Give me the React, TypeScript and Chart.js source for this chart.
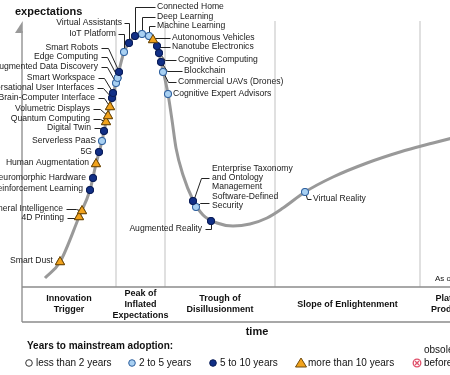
import React, { useEffect, useRef } from "react";
import { Chart, registerables } from "chart.js";

Chart.register(...registerables);

// ---------------- data ----------------
const technologies = [
  "Smart Dust",
  "4D Printing",
  "Artificial General Intelligence",
  "Deep Reinforcement Learning",
  "Neuromorphic Hardware",
  "Human Augmentation",
  "5G",
  "Serverless PaaS",
  "Digital Twin",
  "Quantum Computing",
  "Volumetric Displays",
  "Brain-Computer Interface",
  "Conversational User Interfaces",
  "Smart Workspace",
  "Augmented Data Discovery",
  "Edge Computing",
  "Smart Robots",
  "IoT Platform",
  "Virtual Assistants",
  "Connected Home",
  "Deep Learning",
  "Machine Learning",
  "Autonomous Vehicles",
  "Nanotube Electronics",
  "Cognitive Computing",
  "Blockchain",
  "Commercial UAVs (Drones)",
  "Cognitive Expert Advisors",
  "Enterprise Taxonomy\nand Ontology\nManagement",
  "Software-Defined\nSecurity",
  "Augmented Reality",
  "Virtual Reality",
];

const timeValues = [
  9.5, 14.25, 15, 17, 17.75, 18.5, 19.25, 20, 20.5, 21, 21.5, 22, 22.5, 22.75,
  23.5, 23.9, 24.25, 25.5, 26.75, 28.25, 30, 31.75, 32.75, 33.75, 34.25, 34.75,
  35.25, 36.5, 42.75, 43.5, 47.25, 70.75,
];

const expectationValues = [
  12.5, 35, 38, 48.5, 54.5, 61.5, 67.5, 73, 78, 82.5, 85.5, 90, 94.5, 97, 102,
  104.5, 107.5, 117.5, 122, 125.5, 126.5, 125.5, 123.5, 120.5, 117, 112.5,
  107.5, 96.5, 43, 40, 33, 47.5,
];

// years to mainstream adoption: "2-5", "5-10", ">10"
const adoptionYears = [
  ">10", ">10", ">10", "5-10", "5-10", ">10", "5-10", "2-5", "5-10", ">10",
  ">10", ">10", "5-10", "5-10", "2-5", "2-5", "5-10", "2-5", "5-10", "5-10",
  "2-5", "2-5", ">10", "5-10", "5-10", "5-10", "2-5", "2-5", "5-10", "2-5",
  "5-10", "2-5",
];

const curveTime = [
  5.75, 9.5, 14.25, 17, 18.5, 20, 21, 22.5, 23.5, 25.5, 26.75, 28.25, 30, 31.75,
  33.75, 34.75, 36.5, 37.5, 38.5, 40.25, 42.75, 45.25, 48.75, 52.75, 57, 61.25,
  65.25, 70.75, 77.75, 86.25, 94.5, 102.75, 109.5,
];
const curveExpectation = [
  4.5, 12.5, 35, 48.5, 61.5, 73, 82.5, 94.5, 102, 117.5, 122, 125.5, 126.6,
  125.5, 120.5, 112.5, 96.5, 83.5, 69.5, 56, 43.5, 36, 32, 30.5, 31.5, 34.5,
  39.5, 47.5, 55, 62, 67.5, 72, 75.5,
];

const phaseNames = [
  "Innovation\nTrigger",
  "Peak of\nInflated\nExpectations",
  "Trough of\nDisillusionment",
  "Slope of Enlightenment",
  "Plateau of\nProductivity",
];
const phaseBounds = [0, 23.5, 35.75, 63.25, 99.5, 118];

const legendTitle = "Years to mainstream adoption:";
const legendLabels = [
  "less than 2 years",
  "2 to 5 years",
  "5 to 10 years",
  "more than 10 years",
  "obsolete\nbefore plateau",
];
const yAxisTitle = "expectations";
const xAxisTitle = "time";
const asOfNote = "As of July 2017";

// ---------------- layout / style (not data) ----------------
// label placement relative to its marker: [side, textDx, textDy, leader points]
type LL = [string, number, number, number[][]];
const labelLayout: LL[] = [
  ["L", -7, -1, []],
  ["L", -15, 1, [[-12, 1], [-4, 1], [0, 0]]],
  ["L", -19, -2, [[-16, -2], [-6, -2], [0, 0]]],
  ["L", -7, -1, []],
  ["L", -7, 0, []],
  ["L", -7, -1, []],
  ["L", -7, 0, []],
  ["L", -6, 0, []],
  ["L", -13, -3, [[-10, -3], [-4, -3], [0, 0]]],
  ["L", -16, -3, [[-13, -3], [-6, -3], [0, 0]]],
  ["L", -18, -7, [[-15, -7], [-8, -7], [0, 0]]],
  ["L", -15, -9, [[-12, -9], [-6, -9], [0, 0]]],
  ["L", -18, -10, [[-15, -10], [-9, -10], [0, 0]]],
  ["L", -18, -15, [[-15, -15], [-9, -15], [0, 0]]],
  ["L", -18, -16, [[-15, -16], [-9, -16], [0, 0]]],
  ["L", -20, -21, [[-17, -21], [-11, -21], [0, 0]]],
  ["L", -21, -24, [[-18, -24], [-11, -24], [0, 0]]],
  ["L", -8, -18, [[-6, -18], [0, -18], [0, 0]]],
  ["L", -7, -20, [[-5, -20], [0, -20], [0, 0]]],
  ["R", 22, -29, [[0, 0], [0, -29], [20, -29]]],
  ["R", 15, -17, [[0, 0], [0, -17], [13, -17]]],
  ["R", 8, -10, [[0, 0], [0, -10], [6, -10]]],
  ["R", 19, -2, [[0, -2], [17, -2]]],
  ["R", 15, 1, [[0, 1], [13, 1]]],
  ["R", 19, 7, [[0, 0], [6, 7], [17, 7]]],
  ["R", 23, 9, [[0, 0], [6, 9], [21, 9]]],
  ["R", 15, 10, [[0, 0], [5, 10], [13, 10]]],
  ["R", 5, 0, []],
  ["R", 19, -32, [[0, 0], [8, -23], [16, -23]]],
  ["R", 16, -10, [[0, 0], [4, -4], [13, -4]]],
  ["L", -9, 8, [[-6, 8], [0, 8], [0, 0]]],
  ["R", 8, 7, [[0, 0], [2, 7], [6, 7]]],
];

const DARK = "#112f86";
const DARK_B = "#0a1c55";
const LIGHT = "#a8d0f2";
const LIGHT_B = "#2d5e9c";
const ORANGE = "#f2a31c";
const ORANGE_B = "#6e4a0c";
const FONT = '"Liberation Sans", Arial, sans-serif';

function pointsFor(cls: string) {
  const out: { x: number; y: number }[] = [];
  adoptionYears.forEach((c, i) => {
    if (c === cls) out.push({ x: timeValues[i], y: expectationValues[i] });
  });
  return out;
}

const hypePlugin = {
  id: "hype",
  beforeDatasetsDraw(chart: any) {
    const { ctx, chartArea, scales } = chart;
    const xs = scales.x;
    ctx.save();
    // phase separators
    ctx.strokeStyle = "#d6d6d6";
    ctx.lineWidth = 1.5;
    for (let i = 1; i < phaseBounds.length - 1; i++) {
      const px = Math.round(xs.getPixelForValue(phaseBounds[i]));
      ctx.beginPath();
      ctx.moveTo(px, chartArea.top);
      ctx.lineTo(px, chartArea.bottom);
      ctx.stroke();
    }
    // y axis with half arrow
    const ax = chartArea.left;
    ctx.strokeStyle = "#999";
    ctx.lineWidth = 1.5;
    ctx.beginPath();
    ctx.moveTo(ax, chartArea.top + 10);
    ctx.lineTo(ax, chartArea.bottom + 35);
    ctx.stroke();
    ctx.fillStyle = "#999";
    ctx.beginPath();
    ctx.moveTo(ax + 0.75, chartArea.top);
    ctx.lineTo(ax - 7, chartArea.top + 12);
    ctx.lineTo(ax + 0.75, chartArea.top + 12);
    ctx.closePath();
    ctx.fill();
    // phase box
    ctx.strokeStyle = "#8c8c8c";
    ctx.lineWidth = 1.5;
    ctx.beginPath();
    ctx.moveTo(ax, chartArea.bottom);
    ctx.lineTo(chart.width, chartArea.bottom);
    ctx.moveTo(ax, chartArea.bottom + 35);
    ctx.lineTo(chart.width, chartArea.bottom + 35);
    ctx.stroke();
    ctx.restore();
  },
  afterDatasetsDraw(chart: any) {
    const { ctx, scales } = chart;
    const xs = scales.x;
    const ys = scales.y;
    ctx.save();
    // leaders
    ctx.strokeStyle = "#222";
    ctx.lineWidth = 1;
    technologies.forEach((_, i) => {
      const lay = labelLayout[i];
      const pts = lay[3];
      if (!pts.length) return;
      const px = Math.round(xs.getPixelForValue(timeValues[i]));
      const py = Math.round(ys.getPixelForValue(expectationValues[i]));
      ctx.beginPath();
      pts.forEach((p, k) => {
        const X = px + p[0] + 0.5;
        const Y = py + p[1] + 0.5;
        if (k === 0) ctx.moveTo(X, Y);
        else ctx.lineTo(X, Y);
      });
      ctx.stroke();
    });
    ctx.restore();
  },
  afterDraw(chart: any) {
    const { ctx, chartArea, scales } = chart;
    const xs = scales.x;
    const ys = scales.y;
    ctx.save();
    // redraw markers on top of leaders
    chart.data.datasets.forEach((ds: any, di: number) => {
      if (di === 0) return;
      const meta = chart.getDatasetMeta(di);
      meta.data.forEach((el: any) => el.draw(ctx, chartArea));
    });
    // technology labels
    ctx.fillStyle = "#1a1a1a";
    ctx.font = "8.6px " + FONT;
    ctx.textBaseline = "middle";
    technologies.forEach((name, i) => {
      const lay = labelLayout[i];
      const px = Math.round(xs.getPixelForValue(timeValues[i]));
      const py = Math.round(ys.getPixelForValue(expectationValues[i]));
      ctx.textAlign = lay[0] === "L" ? "right" : "left";
      name.split("\n").forEach((ln, k) => {
        ctx.fillText(ln, px + lay[1], py + lay[2] + k * 9);
      });
    });
    // axis titles
    ctx.fillStyle = "#111";
    ctx.font = "bold 11px " + FONT;
    ctx.textAlign = "left";
    ctx.fillText(yAxisTitle, 15, 12);
    ctx.textAlign = "center";
    ctx.fillText(xAxisTitle, 257, 332);
    // phase labels
    ctx.font = "bold 9px " + FONT;
    const boxMid = chartArea.bottom + 17.5;
    for (let i = 0; i < phaseNames.length; i++) {
      const cx = (xs.getPixelForValue(phaseBounds[i]) + xs.getPixelForValue(phaseBounds[i + 1])) / 2;
      const lines = phaseNames[i].split("\n");
      const start = boxMid - ((lines.length - 1) * 11) / 2;
      lines.forEach((ln, k) => ctx.fillText(ln, cx, start + k * 11));
    }
    // as of note
    ctx.font = "8px " + FONT;
    ctx.textAlign = "left";
    ctx.fillText(asOfNote, 435, 279);
    // legend
    ctx.font = "bold 10px " + FONT;
    ctx.fillText(legendTitle, 27, 346);
    ctx.font = "10px " + FONT;
    const lx = [29, 132, 213, 301, 417];
    const tx = [36, 139, 220, 308, 424];
    const ly = 363;
    legendLabels.forEach((lab, i) => {
      const lines = lab.split("\n");
      ctx.fillStyle = "#111";
      ctx.textAlign = "left";
      lines.forEach((ln, k) => ctx.fillText(ln, tx[i], ly - (lines.length - 1 - k) * 13));
      const x = lx[i];
      ctx.lineWidth = 1;
      if (i === 0 || i === 1 || i === 2) {
        ctx.beginPath();
        ctx.arc(x, ly, 3.3, 0, Math.PI * 2);
        ctx.fillStyle = i === 0 ? "#fff" : i === 1 ? LIGHT : DARK;
        ctx.strokeStyle = i === 0 ? "#333" : i === 1 ? LIGHT_B : DARK_B;
        ctx.fill();
        ctx.stroke();
      } else if (i === 3) {
        ctx.beginPath();
        ctx.moveTo(x, ly - 5);
        ctx.lineTo(x - 5.5, ly + 4);
        ctx.lineTo(x + 5.5, ly + 4);
        ctx.closePath();
        ctx.fillStyle = ORANGE;
        ctx.strokeStyle = ORANGE_B;
        ctx.fill();
        ctx.stroke();
      } else {
        ctx.beginPath();
        ctx.arc(x, ly, 3.8, 0, Math.PI * 2);
        ctx.fillStyle = "#fff";
        ctx.fill();
        ctx.strokeStyle = "#e0506a";
        ctx.lineWidth = 1.3;
        ctx.stroke();
        ctx.beginPath();
        ctx.moveTo(x - 2, ly - 2);
        ctx.lineTo(x + 2, ly + 2);
        ctx.moveTo(x + 2, ly - 2);
        ctx.lineTo(x - 2, ly + 2);
        ctx.stroke();
      }
    });
    ctx.restore();
  },
};

export default function App() {
  const ref = useRef<HTMLCanvasElement | null>(null);
  useEffect(() => {
    document.body.style.margin = "0";
    const canvas = ref.current;
    if (!canvas) return;
    const chart = new Chart(canvas, {
      type: "scatter",
      data: {
        datasets: [
          {
            label: "curve",
            data: curveTime.map((t, i) => ({ x: t, y: curveExpectation[i] })),
            showLine: true,
            borderColor: "#999999",
            borderWidth: 3,
            pointRadius: 0,
            cubicInterpolationMode: "monotone",
            order: 10,
          } as any,
          {
            label: "2 to 5 years",
            data: pointsFor("2-5"),
            pointStyle: "circle",
            pointRadius: 3.6,
            backgroundColor: LIGHT,
            borderColor: LIGHT_B,
            borderWidth: 1,
            order: 1,
          },
          {
            label: "5 to 10 years",
            data: pointsFor("5-10"),
            pointStyle: "circle",
            pointRadius: 3.6,
            backgroundColor: DARK,
            borderColor: DARK_B,
            borderWidth: 1,
            order: 1,
          },
          {
            label: "more than 10 years",
            data: pointsFor(">10"),
            pointStyle: "triangle",
            pointRadius: 5.3,
            backgroundColor: ORANGE,
            borderColor: ORANGE_B,
            borderWidth: 1,
            order: 1,
          },
        ],
      },
      options: {
        responsive: false,
        animation: false,
        events: [],
        layout: {
          autoPadding: false,
          padding: { left: 22, right: 0, top: 21, bottom: 88 },
        },
        scales: {
          x: { type: "linear", display: false, min: 0, max: 107 },
          y: { type: "linear", display: false, min: 0, max: 133 },
        },
        plugins: { legend: { display: false }, tooltip: { enabled: false } },
      },
      plugins: [hypePlugin],
    });
    return () => chart.destroy();
  }, []);
  return (
    <div style={{ width: 450, height: 375, background: "#fff" }}>
      <canvas ref={ref} width={450} height={375} style={{ display: "block" }} />
    </div>
  );
}
